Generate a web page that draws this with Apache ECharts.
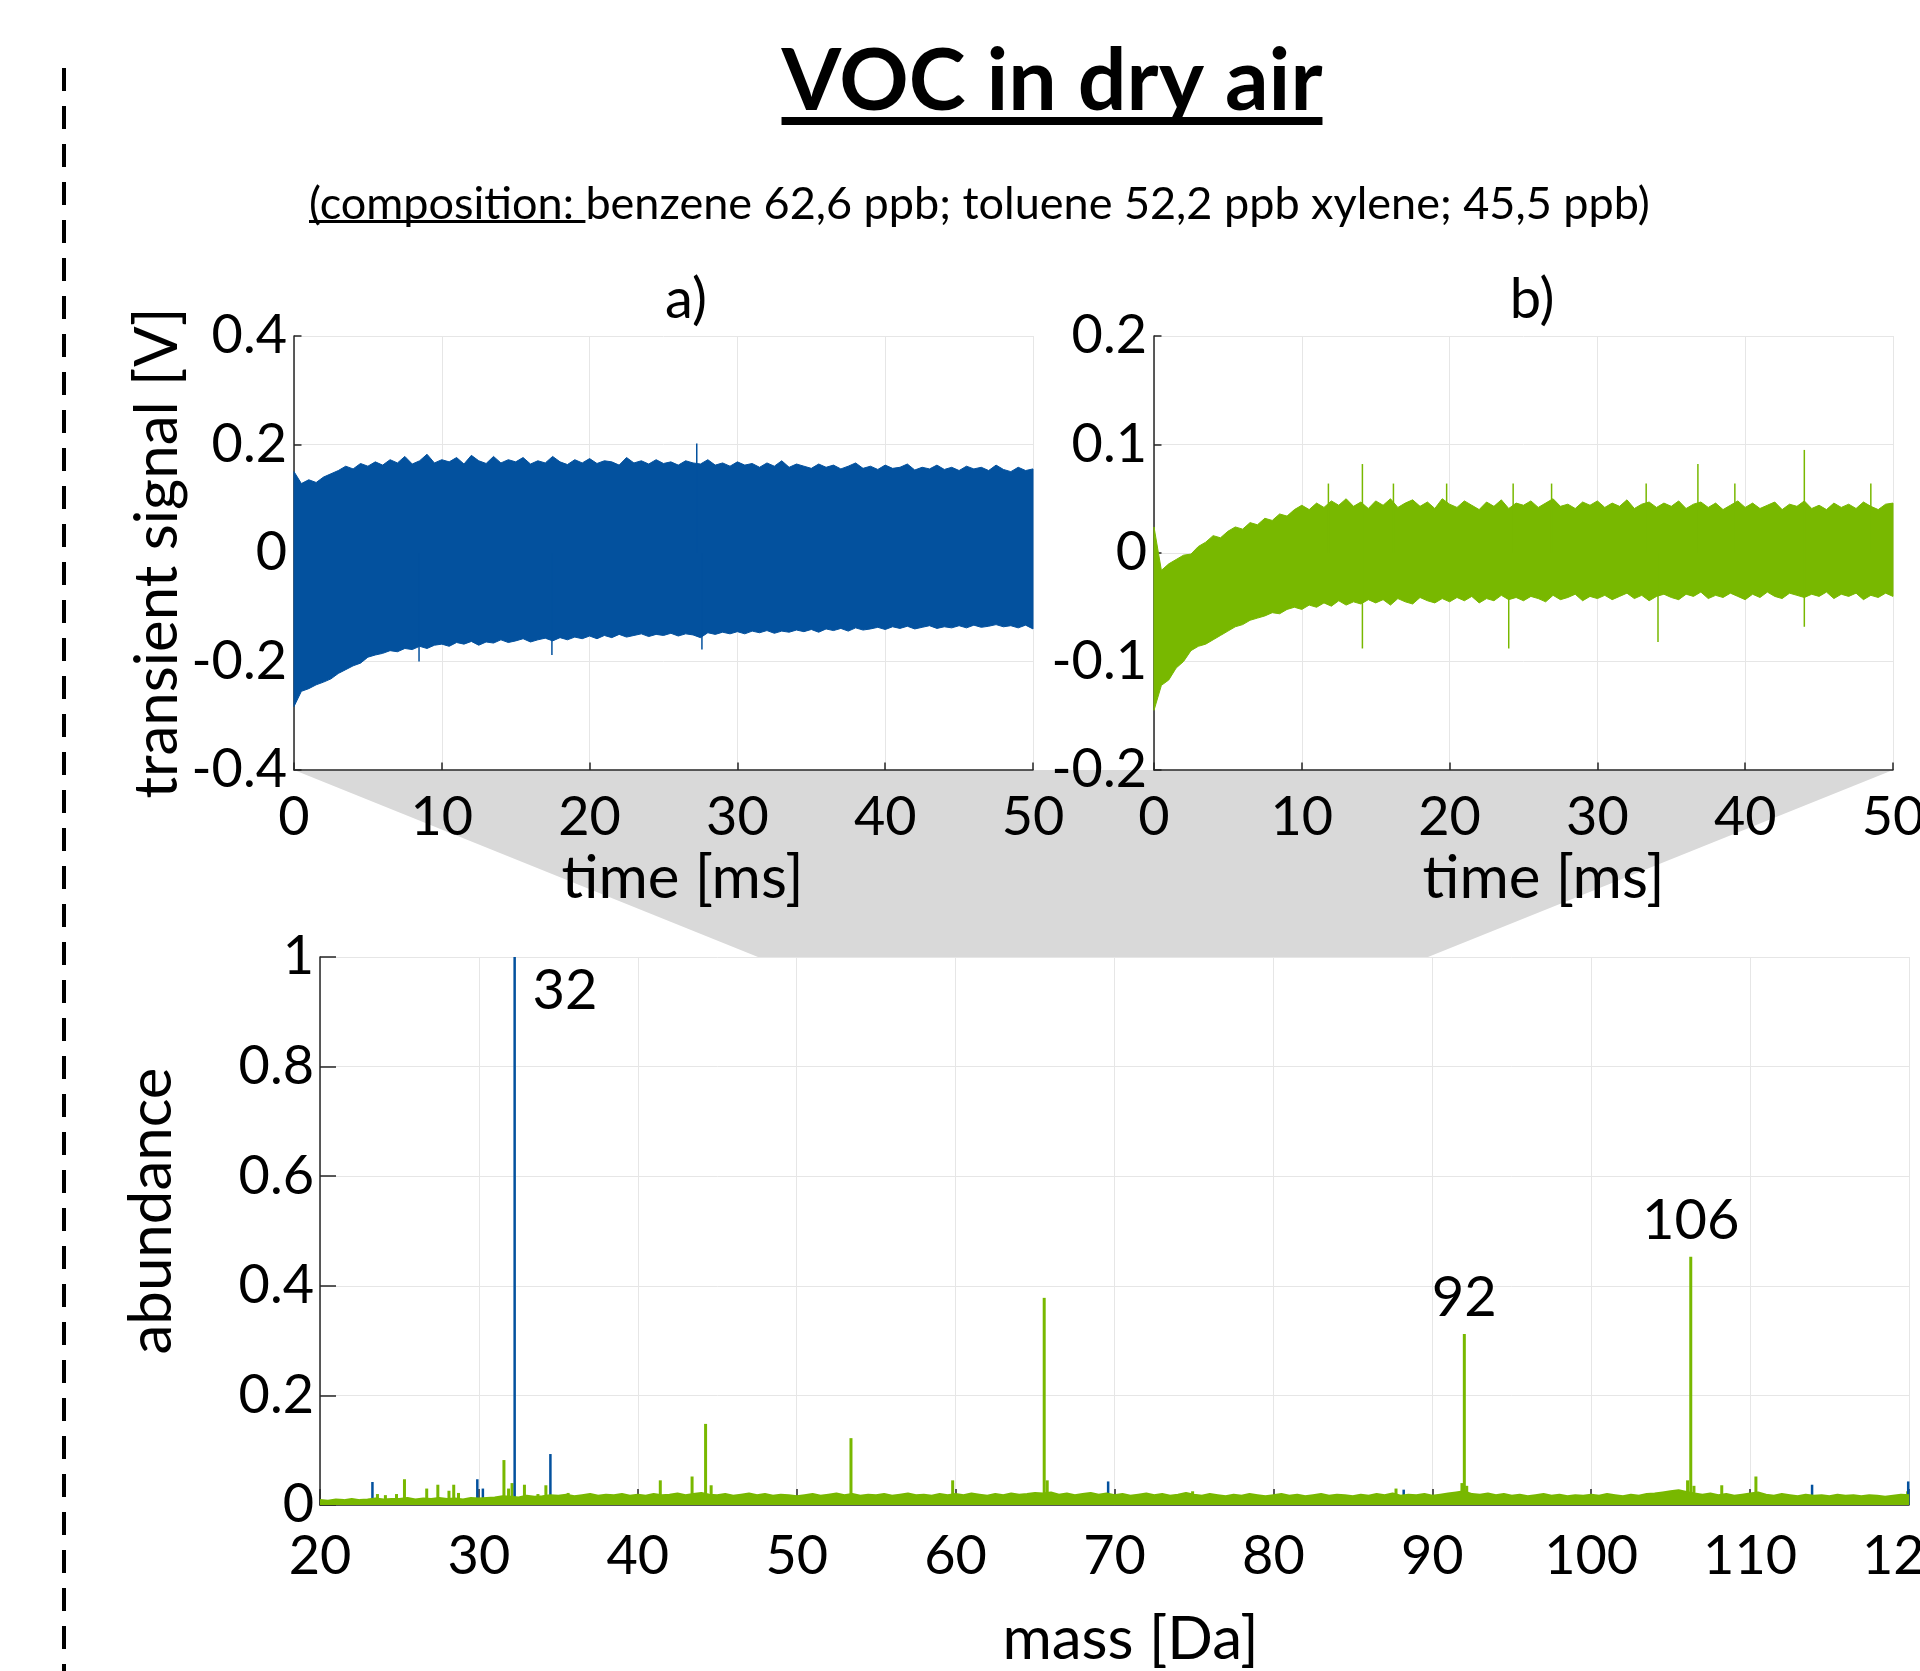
<!DOCTYPE html>
<html>
<head>
<meta charset="utf-8">
<title>VOC in dry air</title>
<script src="https://cdn.jsdelivr.net/npm/echarts@6.0.0/dist/echarts.min.js"></script>
<style>
  html, body { margin: 0; padding: 0; background: #fff; }
  #chart { width: 1920px; height: 1671px; }
</style>
</head>
<body>
<div id="chart"></div>
<script>
// ---------- data ----------
// a) / b) transient signal: envelope of the dense trace, one sample every 0.5 ms (0 ... 50 ms)
const timeStep = 0.5;
const timeTicks = [0, 10, 20, 30, 40, 50];
const voltTicksA = [-0.4, -0.2, 0, 0.2, 0.4];
const voltTicksB = [-0.2, -0.1, 0, 0.1, 0.2];

const upperA = [
  0.150, 0.128, 0.135, 0.130, 0.140, 0.146, 0.152, 0.160, 0.155, 0.165,
  0.160, 0.168, 0.162, 0.172, 0.166, 0.178, 0.164, 0.170, 0.182, 0.166,
  0.172, 0.168, 0.176, 0.164, 0.180, 0.170, 0.165, 0.178, 0.166, 0.172,
  0.168, 0.176, 0.164, 0.170, 0.166, 0.178, 0.168, 0.163, 0.172, 0.166,
  0.174, 0.165, 0.170, 0.168, 0.162, 0.176, 0.166, 0.170, 0.164, 0.172,
  0.165, 0.168, 0.162, 0.170, 0.166, 0.164, 0.172, 0.162, 0.166, 0.160,
  0.168, 0.162, 0.165, 0.158, 0.166, 0.160, 0.170, 0.158, 0.164, 0.160,
  0.156, 0.164, 0.158, 0.162, 0.155, 0.160, 0.166, 0.156, 0.160, 0.154,
  0.162, 0.156, 0.158, 0.164, 0.153, 0.158, 0.155, 0.162, 0.154, 0.158,
  0.152, 0.160, 0.155, 0.158, 0.152, 0.162, 0.154, 0.150, 0.158, 0.152,
  0.155
];
const lowerA = [
  -0.283, -0.255, -0.250, -0.243, -0.238, -0.232, -0.222, -0.215, -0.208, -0.203,
  -0.192, -0.188, -0.185, -0.180, -0.182, -0.176, -0.178, -0.172, -0.176, -0.170,
  -0.168, -0.172, -0.165, -0.168, -0.163, -0.170, -0.164, -0.166, -0.160, -0.165,
  -0.162, -0.158, -0.164, -0.160, -0.157, -0.162, -0.156, -0.160, -0.155, -0.158,
  -0.153, -0.158, -0.152, -0.156, -0.150, -0.155, -0.152, -0.149, -0.154, -0.150,
  -0.152, -0.148, -0.153, -0.149, -0.151, -0.156, -0.147, -0.150, -0.146, -0.149,
  -0.145, -0.149, -0.144, -0.147, -0.143, -0.148, -0.144, -0.146, -0.142, -0.145,
  -0.141, -0.146, -0.140, -0.143, -0.139, -0.144, -0.138, -0.142, -0.140, -0.137,
  -0.141, -0.136, -0.139, -0.135, -0.140, -0.137, -0.134, -0.139, -0.136, -0.138,
  -0.134, -0.138, -0.133, -0.137, -0.135, -0.132, -0.136, -0.134, -0.138, -0.133,
  -0.140
];
// single outliers sticking out of the band: [time ms, volt]
const spikesA = [[27.25, 0.202], [8.46, -0.200], [17.45, -0.188], [27.6, -0.178]];

const upperB = [
  0.024, -0.016, -0.010, -0.006, -0.002, -0.001, 0.006, 0.010, 0.016, 0.014,
  0.020, 0.024, 0.022, 0.028, 0.026, 0.032, 0.030, 0.036, 0.034, 0.040,
  0.044, 0.040, 0.046, 0.042, 0.048, 0.044, 0.050, 0.043, 0.047, 0.041,
  0.048, 0.044, 0.050, 0.042, 0.046, 0.049, 0.043, 0.047, 0.041, 0.050,
  0.045, 0.042, 0.048, 0.044, 0.040, 0.047, 0.043, 0.049, 0.041, 0.046,
  0.044, 0.048, 0.042, 0.046, 0.050, 0.043, 0.045, 0.041, 0.047, 0.044,
  0.048, 0.042, 0.046, 0.043, 0.049, 0.041, 0.045, 0.047, 0.042, 0.046,
  0.043, 0.048, 0.041, 0.045, 0.047, 0.042, 0.046, 0.040, 0.044, 0.048,
  0.042, 0.046, 0.041, 0.044, 0.047, 0.040, 0.045, 0.043, 0.048, 0.041,
  0.044, 0.040, 0.046, 0.042, 0.045, 0.041, 0.047, 0.043, 0.040, 0.045,
  0.046
];
const lowerB = [
  -0.145, -0.122, -0.117, -0.106, -0.100, -0.090, -0.086, -0.084, -0.080, -0.076,
  -0.072, -0.068, -0.066, -0.062, -0.060, -0.058, -0.055, -0.056, -0.052, -0.050,
  -0.052, -0.048, -0.050, -0.046, -0.049, -0.044, -0.048, -0.045, -0.047, -0.043,
  -0.046, -0.043, -0.048, -0.042, -0.045, -0.047, -0.041, -0.044, -0.046, -0.042,
  -0.045, -0.041, -0.044, -0.040, -0.046, -0.042, -0.044, -0.039, -0.043, -0.041,
  -0.044, -0.040, -0.042, -0.045, -0.039, -0.043, -0.041, -0.038, -0.044, -0.040,
  -0.042, -0.039, -0.043, -0.040, -0.037, -0.042, -0.039, -0.044, -0.040, -0.038,
  -0.041, -0.043, -0.038, -0.040, -0.036, -0.042, -0.039, -0.041, -0.037, -0.040,
  -0.043, -0.038, -0.041, -0.036, -0.040, -0.042, -0.037, -0.039, -0.041, -0.038,
  -0.040, -0.036, -0.042, -0.038, -0.040, -0.037, -0.043, -0.039, -0.041, -0.037,
  -0.040
];
const spikesB = [
  [11.8, 0.064], [14.1, 0.082], [16.2, 0.064], [19.8, 0.064], [24.3, 0.064], [26.9, 0.064],
  [33.3, 0.064], [36.8, 0.082], [39.3, 0.064], [44.0, 0.095], [48.5, 0.064],
  [14.1, -0.088], [24.0, -0.088], [34.1, -0.082], [44.0, -0.068]
];

// mass spectrum: noise floor of the green trace every 0.5 Da (20 ... 120 Da)
const massStep = 0.5;
const massTicks = [20, 30, 40, 50, 60, 70, 80, 90, 100, 110, 120];
const abundanceTicks = [0, 0.2, 0.4, 0.6, 0.8, 1];
const greenBase = [
  0.008, 0.007, 0.009, 0.008, 0.010, 0.008, 0.009, 0.011, 0.009, 0.010,
  0.010, 0.012, 0.009, 0.011, 0.010, 0.012, 0.010, 0.011, 0.009, 0.012,
  0.011, 0.012, 0.013, 0.015, 0.014, 0.013, 0.016, 0.014, 0.015, 0.017,
  0.016, 0.018, 0.015, 0.017, 0.019, 0.016, 0.018, 0.017, 0.019, 0.016,
  0.018, 0.016, 0.019, 0.017, 0.018, 0.020, 0.017, 0.019, 0.021, 0.018,
  0.017, 0.019, 0.016, 0.018, 0.020, 0.017, 0.019, 0.016, 0.018, 0.017,
  0.015, 0.017, 0.019, 0.016, 0.018, 0.020, 0.017, 0.019, 0.016, 0.018,
  0.017, 0.019, 0.016, 0.018, 0.020, 0.017, 0.018, 0.016, 0.019, 0.017,
  0.019, 0.017, 0.020, 0.018, 0.016, 0.019, 0.017, 0.020, 0.018, 0.019,
  0.021, 0.020, 0.022, 0.018, 0.020, 0.017, 0.019, 0.021, 0.018, 0.020,
  0.017, 0.019, 0.016, 0.018, 0.020, 0.017, 0.019, 0.016, 0.018, 0.021,
  0.018, 0.016, 0.019, 0.017, 0.015, 0.018, 0.016, 0.019, 0.017, 0.015,
  0.017, 0.019, 0.016, 0.018, 0.015, 0.017, 0.019, 0.016, 0.018, 0.017,
  0.015, 0.018, 0.016, 0.019, 0.017, 0.020, 0.016, 0.018, 0.017, 0.019,
  0.016, 0.018, 0.020, 0.022, 0.024, 0.019, 0.018, 0.020, 0.017, 0.019,
  0.016, 0.018, 0.015, 0.017, 0.019, 0.016, 0.018, 0.015, 0.017, 0.016,
  0.018, 0.016, 0.019, 0.017, 0.015, 0.018, 0.016, 0.019, 0.020, 0.022,
  0.024, 0.026, 0.023, 0.020, 0.018, 0.020, 0.017, 0.019, 0.016, 0.018,
  0.020, 0.022, 0.018, 0.016, 0.019, 0.017, 0.015, 0.018, 0.016, 0.017,
  0.015, 0.018, 0.016, 0.017, 0.015, 0.017, 0.016, 0.014, 0.016, 0.018,
  0.017
];
// [mass Da, abundance]
const greenPeaks = [
  [23.6, 0.020], [24.1, 0.018], [24.8, 0.020], [25.3, 0.047], [26.7, 0.030], [27.4, 0.037],
  [28.1, 0.026], [28.4, 0.037], [28.7, 0.022], [31.56, 0.082], [31.85, 0.030], [32.07, 0.040],
  [32.85, 0.037], [33.7, 0.020], [34.2, 0.036], [35.6, 0.022], [41.4, 0.045], [43.4, 0.052],
  [44.25, 0.148], [44.6, 0.036], [53.4, 0.122], [59.8, 0.045], [65.56, 0.378], [65.75, 0.045],
  [74.9, 0.025], [87.7, 0.030], [91.85, 0.040], [92.0, 0.312], [92.15, 0.035],
  [106.05, 0.045], [106.25, 0.453], [106.45, 0.035], [108.2, 0.036], [110.35, 0.052], [119.9, 0.025]
];
const bluePeaks = [
  [23.3, 0.042], [29.9, 0.047], [30.25, 0.030], [32.25, 1.0], [34.5, 0.093],
  [69.6, 0.043], [88.2, 0.028], [113.9, 0.037], [119.95, 0.043]
];
const labelledMasses = [32.25, 92.0, 106.25];
const labelTexts = ['32', '92', '106'];

// ---------- look ----------
const BLUE = '#03519e';
const GREEN = '#78b800';
const AXIS = '#262626';
const GRIDLINE = '#e6e6e6';
const FONT = 'Lato';

const gridA = { left: 294, top: 336, width: 739, height: 434 };
const gridB = { left: 1154, top: 336, width: 739, height: 434 };
const gridC = { left: 320, top: 957, width: 1589, height: 548 };

function axis(gridIndex, ticks, tickLen, margin, extra) {
  return Object.assign({
    type: 'value',
    gridIndex: gridIndex,
    min: ticks[0],
    max: ticks[ticks.length - 1],
    interval: ticks[1] - ticks[0],
    axisLine: { show: true, onZero: false, lineStyle: { color: AXIS, width: 1.5 } },
    axisTick: { show: true, inside: true, length: tickLen, lineStyle: { color: AXIS, width: 1.5 } },
    splitLine: { show: true, lineStyle: { color: GRIDLINE, width: 1 } },
    axisLabel: {
      fontFamily: FONT, fontSize: 54, color: '#000', margin: margin,
      formatter: v => String(+v.toFixed(2))
    },
    nameTextStyle: { fontFamily: FONT, fontSize: 60, color: '#000' }
  }, extra || {});
}

// the dense trace is drawn as the polygon between its upper and lower envelope
function band(ax, lower, upper, color) {
  return {
    type: 'custom', xAxisIndex: ax, yAxisIndex: ax, silent: true,
    data: [[0, 0]],
    renderItem: (params, api) => {
      const top = upper.map((v, i) => api.coord([i * timeStep, v]));
      const bottom = lower.map((v, i) => api.coord([i * timeStep, v])).reverse();
      return {
        type: 'polygon',
        shape: { points: top.concat(bottom) },
        style: { fill: color, stroke: color, lineWidth: 1 }
      };
    }
  };
}

function spikes(ax, data, color) {
  return {
    type: 'bar', xAxisIndex: ax, yAxisIndex: ax, barWidth: 1.5, barGap: '-100%',
    silent: true, itemStyle: { color: color }, data: data
  };
}

function peakData(peaks) {
  return peaks.map(p => {
    const k = labelledMasses.indexOf(p[0]);
    if (k < 0) return p;
    const side = labelTexts[k] === '32';
    return {
      value: p,
      label: side
        ? { show: true, formatter: labelTexts[k], position: [19, 6], align: 'left', verticalAlign: 'top',
            fontFamily: FONT, fontSize: 56, color: '#000' }
        : { show: true, formatter: labelTexts[k], position: 'top', distance: 8,
            fontFamily: FONT, fontSize: 56, color: '#000' }
    };
  });
}

// text widths for the underlines
const measure = document.createElement('canvas').getContext('2d');
function textWidth(font, s) { measure.font = font; return measure.measureText(s).width; }

const titleFont = 'bold 86px Lato';
const titleText = 'VOC in dry air';
const titleX = 1052;
const titleW = textWidth(titleFont, titleText);
const subFont = '45px Lato';
const subText = '(composition: benzene 62,6 ppb; toluene 52,2 ppb xylene; 45,5 ppb)';
const subX = 309;
const subW = textWidth(subFont, '(composition: ');

const aBottom = gridA.top + gridA.height;
const option = {
  backgroundColor: '#fff',
  animation: false,
  grid: [gridA, gridB, gridC].map(g => Object.assign({
    show: true, backgroundColor: '#fff', borderWidth: 0,
    containLabel: false, outerBoundsMode: 'none'
  }, g)),
  xAxis: [
    axis(0, timeTicks, 7.5, 21, {
      name: 'time [ms]', nameLocation: 'middle', nameGap: 79,
      nameTextStyle: { fontFamily: FONT, fontSize: 60, color: '#000', padding: [0, 0, 0, 38] }
    }),
    axis(1, timeTicks, 7.5, 21, {
      name: 'time [ms]', nameLocation: 'middle', nameGap: 79,
      nameTextStyle: { fontFamily: FONT, fontSize: 60, color: '#000', padding: [0, 0, 0, 40] }
    }),
    axis(2, massTicks, 16, 25, {
      name: 'mass [Da]', nameLocation: 'middle', nameGap: 105,
      nameTextStyle: { fontFamily: FONT, fontSize: 60, color: '#000', padding: [0, 0, 0, 32] }
    })
  ],
  yAxis: [
    axis(0, voltTicksA, 7.5, 7, {
      name: 'transient signal [V]', nameLocation: 'middle', nameGap: 106
    }),
    axis(1, voltTicksB, 7.5, 7),
    axis(2, abundanceTicks, 16, 6, {
      name: 'abundance', nameLocation: 'middle', nameGap: 138,
      nameTextStyle: { fontFamily: FONT, fontSize: 60, color: '#000', padding: [0, 0, 0, 40] }
    })
  ],
  series: [
    band(0, lowerA, upperA, BLUE),
    spikes(0, spikesA, BLUE),
    band(1, lowerB, upperB, GREEN),
    spikes(1, spikesB, GREEN),
    {
      type: 'line', xAxisIndex: 2, yAxisIndex: 2, symbol: 'none', silent: true,
      lineStyle: { color: GREEN, width: 3 }, areaStyle: { color: GREEN, opacity: 1, origin: 0 },
      data: greenBase.map((v, i) => [massTicks[0] + i * massStep, v])
    },
    {
      type: 'bar', xAxisIndex: 2, yAxisIndex: 2, barWidth: 3, barGap: '-100%', silent: true,
      itemStyle: { color: GREEN }, data: peakData(greenPeaks)
    },
    {
      type: 'bar', xAxisIndex: 2, yAxisIndex: 2, barWidth: 2.5, barGap: '-100%', silent: true,
      itemStyle: { color: BLUE }, data: peakData(bluePeaks)
    }
  ],
  graphic: [
    { // grey "zoom" wedge from the transients down to the spectrum
      type: 'polygon', z: -10, silent: true,
      shape: { points: [
        [gridA.left, aBottom], [gridB.left + gridB.width, aBottom],
        [1428, gridC.top], [758, gridC.top]
      ] },
      style: { fill: '#d9d9d9' }
    },
    {
      type: 'line', silent: true,
      shape: { x1: 64, y1: 68, x2: 64, y2: 1671 },
      style: { stroke: '#000', lineWidth: 4, lineDash: [23, 15] }
    },
    {
      type: 'text', x: titleX, y: 82, silent: true,
      style: { text: titleText, font: titleFont, fill: '#000', align: 'center', verticalAlign: 'middle' }
    },
    {
      type: 'rect', silent: true,
      shape: { x: titleX - titleW / 2, y: 117, width: titleW, height: 8 },
      style: { fill: '#000' }
    },
    {
      type: 'text', x: subX, y: 204, silent: true,
      style: { text: subText, font: subFont, fill: '#000', align: 'left', verticalAlign: 'middle' }
    },
    {
      type: 'rect', silent: true,
      shape: { x: subX, y: 220, width: subW, height: 3 },
      style: { fill: '#000' }
    },
    {
      type: 'text', x: 686, y: 300, silent: true,
      style: { text: 'a)', font: '56px Lato', fill: '#000', align: 'center', verticalAlign: 'middle' }
    },
    {
      type: 'text', x: 1532, y: 300, silent: true,
      style: { text: 'b)', font: '56px Lato', fill: '#000', align: 'center', verticalAlign: 'middle' }
    }
  ]
};

const chart = echarts.init(document.getElementById('chart'), null, { renderer: 'canvas' });
chart.setOption(option);
</script>
</body>
</html>
